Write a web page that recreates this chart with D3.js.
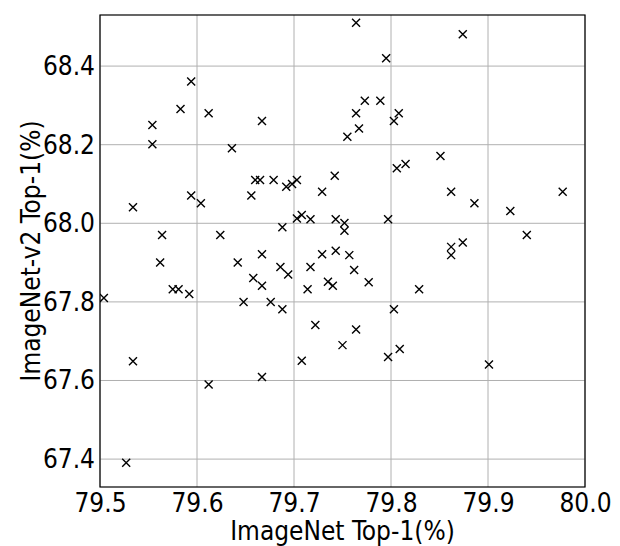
<!DOCTYPE html>
<html>
<head>
<meta charset="utf-8">
<script src="https://cdn.jsdelivr.net/npm/d3@7/dist/d3.min.js"></script>
<style>
  html, body { margin: 0; padding: 0; background: #fff; }
  svg { display: block; font-family: "DejaVu Sans Condensed", "DejaVu Sans", Verdana, sans-serif; }
</style>
</head>
<body>
<svg id="chart" width="620" height="546"></svg>
<script>
// ImageNet Top-1 (%) of each run
const imagenetTop1 = [
  79.594, 79.583, 79.612, 79.554, 79.667, 79.554, 79.636, 79.660, 79.665, 79.594,
  79.656, 79.604, 79.534, 79.564, 79.624, 79.764, 79.795, 79.773, 79.789, 79.764,
  79.808, 79.803, 79.767, 79.755, 79.806, 79.815, 79.679, 79.692, 79.698, 79.703,
  79.742, 79.729, 79.688, 79.703, 79.708, 79.717, 79.743, 79.752, 79.752, 79.797,
  79.874, 79.851, 79.862, 79.886, 79.977, 79.923, 79.940, 79.862, 79.874, 79.862,
  79.901, 79.562, 79.504, 79.575, 79.581, 79.592, 79.642, 79.658, 79.667, 79.648,
  79.667, 79.534, 79.612, 79.667, 79.527, 79.686, 79.694, 79.676, 79.688, 79.729,
  79.743, 79.757, 79.717, 79.762, 79.735, 79.740, 79.714, 79.777, 79.829, 79.803,
  79.722, 79.764, 79.750, 79.797, 79.809, 79.708
];
// ImageNet-v2 Top-1 (%) of the same runs
const imagenetV2Top1 = [
  68.361, 68.291, 68.280, 68.250, 68.260, 68.201, 68.191, 68.110, 68.110, 68.071,
  68.071, 68.051, 68.041, 67.970, 67.970, 68.510, 68.420, 68.312, 68.312, 68.280,
  68.280, 68.260, 68.241, 68.220, 68.140, 68.151, 68.110, 68.093, 68.100, 68.110,
  68.121, 68.080, 67.990, 68.012, 68.021, 68.010, 68.010, 68.001, 67.981, 68.010,
  68.481, 68.171, 68.080, 68.051, 68.080, 68.031, 67.970, 67.940, 67.951, 67.919,
  67.641, 67.900, 67.810, 67.832, 67.832, 67.820, 67.900, 67.861, 67.841, 67.800,
  67.921, 67.649, 67.590, 67.609, 67.391, 67.889, 67.870, 67.800, 67.781, 67.921,
  67.930, 67.919, 67.889, 67.881, 67.851, 67.841, 67.832, 67.850, 67.832, 67.781,
  67.741, 67.730, 67.690, 67.660, 67.680, 67.650
];
const xTicks = [79.5, 79.6, 79.7, 79.8, 79.9, 80.0];
const yTicks = [67.4, 67.6, 67.8, 68.0, 68.2, 68.4];
const xDomain = [79.5, 80.0];
const yDomain = [67.329, 68.530];
const xLabel = "ImageNet Top-1(%)";
const yLabel = "ImageNet-v2 Top-1(%)";

const points = imagenetTop1.map((x, i) => ({ x, y: imagenetV2Top1[i] }));

const FONT = "DejaVu Sans Condensed, DejaVu Sans, Verdana, sans-serif";
const svg = d3.select("#chart");
const plot = { left: 100, right: 585, top: 15, bottom: 487 };

const x = d3.scaleLinear().domain(xDomain).range([plot.left, plot.right]);
const y = d3.scaleLinear().domain(yDomain).range([plot.bottom, plot.top]);

svg.append("defs").append("clipPath").attr("id", "clip")
  .append("rect")
  .attr("x", plot.left).attr("y", plot.top)
  .attr("width", plot.right - plot.left).attr("height", plot.bottom - plot.top);

// grid
const grid = svg.append("g").attr("class", "grid");
grid.selectAll("line.vx").data(xTicks).join("line")
  .attr("x1", d => x(d)).attr("x2", d => x(d))
  .attr("y1", plot.top).attr("y2", plot.bottom)
  .attr("stroke", "#b0b0b0").attr("stroke-width", 1);
grid.selectAll("line.hy").data(yTicks).join("line")
  .attr("x1", plot.left).attr("x2", plot.right)
  .attr("y1", d => y(d)).attr("y2", d => y(d))
  .attr("stroke", "#b0b0b0").attr("stroke-width", 1);

// axes (labels only, no tick marks)
const xAxis = d3.axisBottom(x).tickValues(xTicks).tickFormat(d3.format(".1f"))
  .tickSize(0).tickPadding(6.5);
const yAxis = d3.axisLeft(y).tickValues(yTicks).tickFormat(d3.format(".1f"))
  .tickSize(0).tickPadding(5);

const gx = svg.append("g").attr("transform", `translate(0,${plot.bottom})`).call(xAxis);
const gy = svg.append("g").attr("transform", `translate(${plot.left},0)`).call(yAxis);
[gx, gy].forEach(g => {
  g.select(".domain").remove();
  g.selectAll("text")
    .attr("font-family", FONT)
    .attr("font-size", 26)
    .attr("fill", "#000");
});

// markers
const s = 4;
const marks = svg.append("g").attr("clip-path", "url(#clip)");
marks.selectAll("path").data(points).join("path")
  .attr("d", d => {
    const cx = x(d.x), cy = y(d.y);
    return `M${cx - s},${cy - s}L${cx + s},${cy + s}M${cx - s},${cy + s}L${cx + s},${cy - s}`;
  })
  .attr("stroke", "#000").attr("stroke-width", 1.4).attr("fill", "none");

// frame
svg.append("rect")
  .attr("x", plot.left).attr("y", plot.top)
  .attr("width", plot.right - plot.left).attr("height", plot.bottom - plot.top)
  .attr("fill", "none").attr("stroke", "#000").attr("stroke-width", 1.2);

// axis titles
svg.append("text")
  .attr("x", (plot.left + plot.right) / 2).attr("y", 540)
  .attr("text-anchor", "middle")
  .attr("font-family", FONT)
  .attr("font-size", 26).attr("fill", "#000")
  .text(xLabel);

svg.append("text")
  .attr("transform", `translate(31,${(plot.top + plot.bottom) / 2}) rotate(-90)`)
  .attr("text-anchor", "middle")
  .attr("dominant-baseline", "central")
  .attr("font-family", FONT)
  .attr("font-size", 26).attr("fill", "#000")
  .text(yLabel);
</script>
</body>
</html>
